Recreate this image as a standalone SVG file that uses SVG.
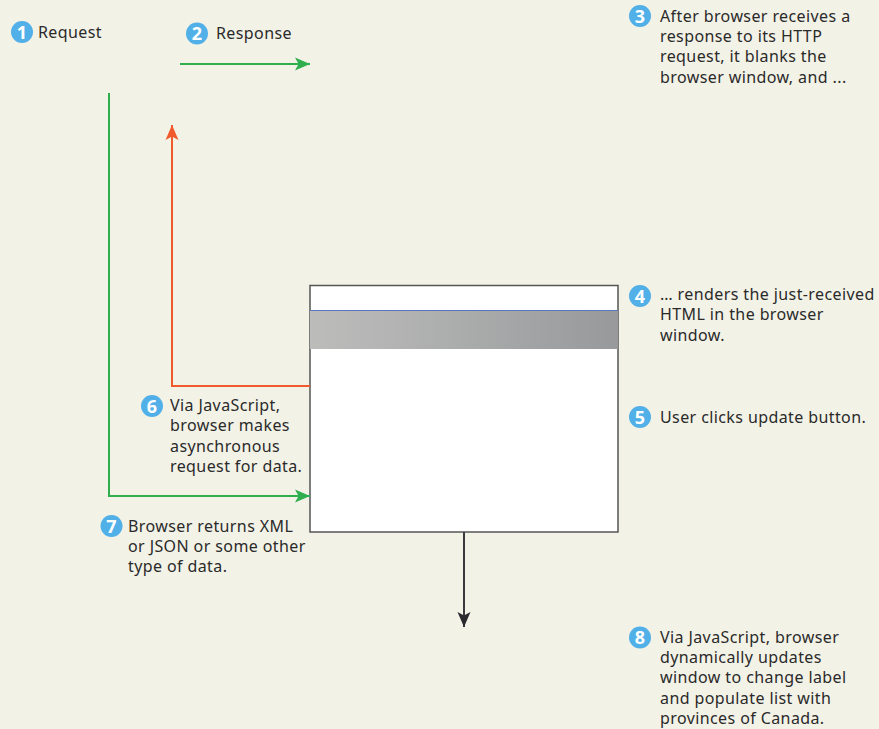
<svg xmlns="http://www.w3.org/2000/svg" width="879" height="729" viewBox="0 0 879 729">
<style>
text{font-family:"Noto Sans","Open Sans","DejaVu Sans",sans-serif;font-size:16px;letter-spacing:.4px;fill:#2a2a2a}
.b{fill:#52b0e8}
.n{fill:#fff;font-weight:700;font-size:18px;letter-spacing:0;text-anchor:middle}
.c{fill:none;stroke-width:2}
</style>
<defs>
<linearGradient id="g"><stop offset="0" stop-color="#bcbdbb"/><stop offset="1" stop-color="#98999b"/></linearGradient>
<marker id="ag" markerUnits="userSpaceOnUse" markerWidth="15" markerHeight="14" refX="15" refY="7" orient="auto"><path d="M0 0.500L15 7L0 13.500L3.500 7Z" fill="#2fae4e"/></marker>
<marker id="ao" markerUnits="userSpaceOnUse" markerWidth="15" markerHeight="14" refX="15" refY="7" orient="auto"><path d="M0 0.500L15 7L0 13.500L3.500 7Z" fill="#f05a2c"/></marker>
<marker id="ak" markerUnits="userSpaceOnUse" markerWidth="15" markerHeight="14" refX="15" refY="7" orient="auto"><path d="M0 0.500L15 7L0 13.500L3.500 7Z" fill="#2a2a2c"/></marker>
</defs>
<rect width="879" height="729" fill="#f3f2e7"/>
<g id="window">
<rect x="310" y="285.500" width="308" height="246.500" fill="#fff" stroke="#555" stroke-width="1.500"/>
<rect x="310" y="310.500" width="308" height="38.500" fill="url(#g)"/>
<line x1="310" y1="310.500" x2="618" y2="310.500" stroke="#5a75c0" stroke-width="1"/>
</g>
<g id="connectors">
<path class="c" stroke="#2fae4e" d="M180 64H310" marker-end="url(#ag)"/>
<path class="c" stroke="#2fae4e" d="M109 93V496H310" marker-end="url(#ag)"/>
<path class="c" stroke="#f05a2c" d="M310 386H172V125" marker-end="url(#ao)"/>
<path class="c" stroke="#3a3a3c" d="M464 532V627" marker-end="url(#ak)"/>
</g>
<g id="step1"><circle class="b" cx="22" cy="32" r="11"/><text class="n" x="22" y="38.500">1</text><text x="38" y="38">Request</text></g>
<g id="step2"><circle class="b" cx="197" cy="33.500" r="11"/><text class="n" x="197" y="40">2</text><text x="216" y="39">Response</text></g>
<g id="step3"><circle class="b" cx="640" cy="16" r="11"/><text class="n" x="640" y="22.500">3</text><text x="660" y="22">After browser receives a</text><text x="660" y="42">response to its HTTP</text><text x="660" y="62">request, it blanks the</text><text x="660" y="83">browser window, and ...</text></g>
<g id="step4"><circle class="b" cx="640" cy="296" r="11"/><text class="n" x="640" y="302.500">4</text><text x="660" y="300">… renders the just-received</text><text x="660" y="320">HTML in the browser</text><text x="660" y="341">window.</text></g>
<g id="step5"><circle class="b" cx="640" cy="417" r="11"/><text class="n" x="640" y="423.500">5</text><text x="660" y="423">User clicks update button.</text></g>
<g id="step6"><circle class="b" cx="152" cy="406" r="11"/><text class="n" x="152" y="412.500">6</text><text x="170" y="411">Via JavaScript,</text><text x="170" y="431">browser makes</text><text x="170" y="452">asynchronous</text><text x="170" y="472">request for data.</text></g>
<g id="step7"><circle class="b" cx="111.500" cy="526" r="11"/><text class="n" x="111.500" y="532.500">7</text><text x="128" y="532">Browser returns XML</text><text x="128" y="552">or JSON or some other</text><text x="128" y="572">type of data.</text></g>
<g id="step8"><circle class="b" cx="640" cy="637.500" r="11"/><text class="n" x="640" y="644">8</text><text x="660" y="643">Via JavaScript, browser</text><text x="660" y="663">dynamically updates</text><text x="660" y="683">window to change label</text><text x="660" y="704">and populate list with</text><text x="660" y="724">provinces of Canada.</text></g>
</svg>
